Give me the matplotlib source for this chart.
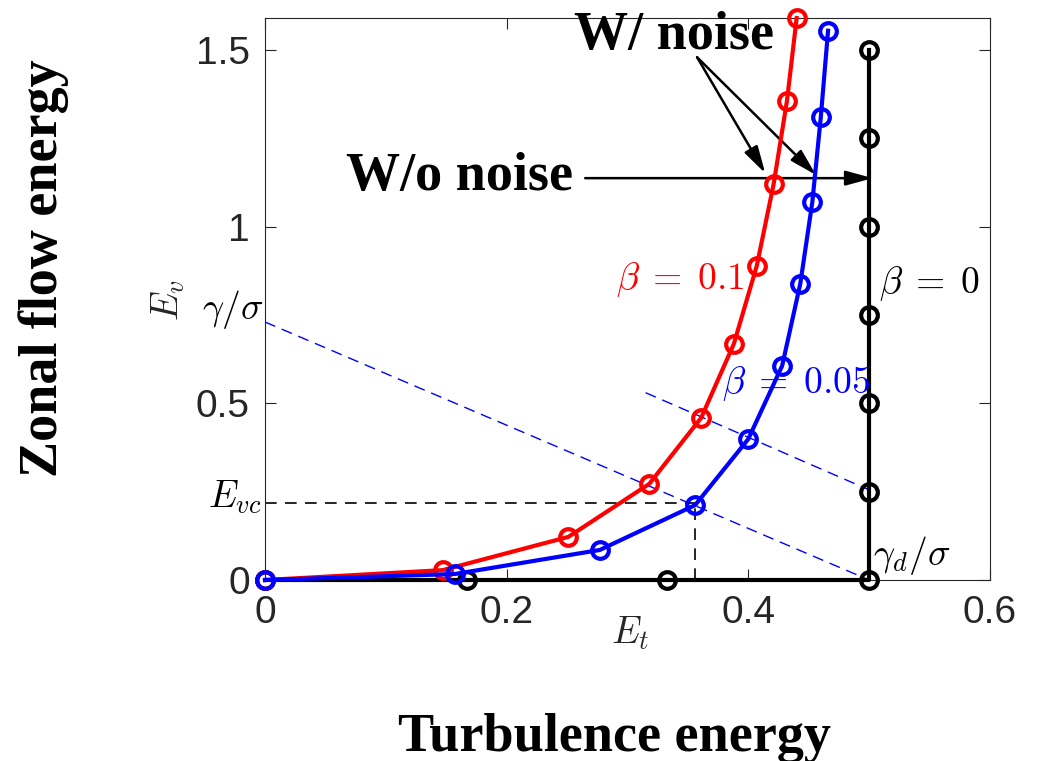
import matplotlib
matplotlib.use('Agg')
import matplotlib.pyplot as plt

# Pontos (E_t, E_v)
et_beta01 = [0, 0.147, 0.251, 0.318, 0.361, 0.388, 0.407, 0.421, 0.432, 0.440]
ev_beta01 = [0, 0.028, 0.122, 0.272, 0.459, 0.668, 0.889, 1.121, 1.356, 1.59]

et_beta005 = [0, 0.157, 0.277, 0.356, 0.400, 0.428, 0.443, 0.453, 0.460, 0.466]
ev_beta005 = [0, 0.017, 0.085, 0.212, 0.399, 0.606, 0.838, 1.070, 1.310, 1.554]

et_beta0 = [0, 0.167, 0.333, 0.5, 0.5, 0.5, 0.5, 0.5, 0.5, 0.5]
ev_beta0 = [0, 0, 0, 0, 0.25, 0.5, 0.75, 1.0, 1.25, 1.5]

# Retas tracejadas (gamma/sigma -> gamma_d/sigma) e o ponto critico
reta1_x = [0, 0.5]
reta1_y = [0.73, 0]
reta2_x = [0.315, 0.5]
reta2_y = [0.530, 0.255]
et_c = 0.356
ev_c = 0.218

xticks = [0, 0.2, 0.4, 0.6]
xticklabels = ['0', '0.2', '0.4', '0.6']
yticks = [0, 0.5, 1, 1.5]
yticklabels = ['0', '0.5', '1', '1.5']

plt.rcParams['mathtext.fontset'] = 'cm'


def desenhar():
    fig = plt.figure(figsize=(10.39, 7.61), dpi=100)
    ax = fig.add_axes([0.2551, 0.2378, 0.6977, 0.7385])

    estilo = dict(lw=3, marker='o', ms=12, mew=3, mfc='none', clip_on=False)
    ax.plot(et_beta0, ev_beta0, color='k', zorder=3, **estilo)
    ax.plot(et_beta01, ev_beta01, color='#ff0000', zorder=4, **estilo)
    ax.plot(et_beta005, ev_beta005, color='#0000ff', zorder=5, **estilo)

    ax.plot(reta1_x, reta1_y, color='#0000ff', lw=1, ls=(0, (8, 5)))
    ax.plot(reta2_x, reta2_y, color='#0000ff', lw=1, ls=(0, (8, 5)))
    ax.plot([0, et_c], [ev_c, ev_c], color='k', lw=1.2, ls=(0, (7, 5)))
    ax.plot([et_c, et_c], [0, ev_c], color='k', lw=1.2, ls=(0, (7, 5)))

    ax.set_xlim(0, 0.6)
    ax.set_ylim(0, 1.59)
    ax.set_xticks(xticks)
    ax.set_xticklabels(xticklabels)
    ax.set_yticks(yticks)
    ax.set_yticklabels(yticklabels)
    ax.tick_params(direction='in', length=8, width=0.8, top=True, right=True,
                   labelsize=28, colors='#262626', pad=11)
    for lab in ax.get_xticklabels() + ax.get_yticklabels():
        lab.set_family('Liberation Sans')
    for s in ax.spines.values():
        s.set_color('#262626')
        s.set_linewidth(0.8)

    # Textos em LaTeX
    ax.text(0.397, 0.849, r'$\beta\;=\;0.1$', color='#ff0000', fontsize=27, ha='right', va='center')
    ax.text(0.378, 0.557, r'$\beta\;=\;0.05$', color='#0000ff', fontsize=27, ha='left', va='center')
    ax.text(0.508, 0.84, r'$\beta\;=\;0$', color='k', fontsize=27, ha='left', va='center')
    ax.text(0.503, 0.07, r'$\gamma_d/\sigma$', color='k', fontsize=27, ha='left', va='center')
    fig.text(263 / 1039, 1 - 310 / 761, r'$\gamma/\sigma$', fontsize=27, ha='right', va='center')
    fig.text(262 / 1039, 1 - 497 / 761, r'$E_{vc}$', fontsize=27, ha='right', va='center')
    fig.text(168 / 1039, 1 - 300 / 761, r'$E_v$', fontsize=27, ha='center', va='center', rotation=90,
             color='#262626')
    fig.text(630 / 1039, 1 - 633 / 761, r'$E_t$', fontsize=27, ha='center', va='center', color='#262626')

    # Anotacoes com setas
    serif = dict(family='Liberation Serif', weight='bold', fontsize=39)
    ax.text(0.3386, 1.54, 'W/ noise', ha='center', va='center', **serif)
    ax.text(0.255, 1.14, 'W/o noise', ha='right', va='center', **serif)
    seta = dict(arrowstyle='-|>,head_length=1.1,head_width=0.3', color='k', lw=1.8,
                mutation_scale=15, shrinkA=0, shrinkB=0)
    ax.annotate('', xy=(0.414, 1.151), xytext=(0.3576, 1.479), arrowprops=seta)
    ax.annotate('', xy=(0.456, 1.146), xytext=(0.3576, 1.479), arrowprops=seta)
    ax.annotate('', xy=(0.503, 1.137), xytext=(0.265, 1.137), arrowprops=seta)

    fig.text(44 / 1039, 1 - 268 / 761, 'Zonal flow energy', rotation=90, ha='center', va='center', **serif)
    fig.text(614 / 1039, 1 - 738 / 761, 'Turbulence energy', ha='center', va='center', **serif)

    fig.savefig('out.png', dpi=100)


if __name__ == "__main__":
    desenhar()
